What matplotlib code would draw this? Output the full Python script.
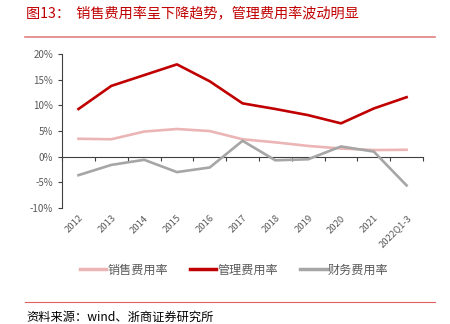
import matplotlib
matplotlib.use("Agg")
import matplotlib.pyplot as plt
from matplotlib.lines import Line2D

plt.rcParams['font.family'] = ['Noto Sans CJK SC', 'DejaVu Sans']

years = ['2012', '2013', '2014', '2015', '2016', '2017', '2018', '2019',
         '2020', '2021', '2022Q1-3']
sales_rate = [3.5, 3.4, 4.9, 5.4, 5.0, 3.4, 2.8, 2.1, 1.6, 1.3, 1.35]
admin_rate = [9.3, 13.8, 15.9, 18.0, 14.7, 10.4, 9.3, 8.1, 6.5, 9.4, 11.6]
fin_rate = [-3.6, -1.6, -0.6, -3.0, -2.1, 3.1, -0.7, -0.5, 2.0, 1.0, -5.6]

red = '#C00000'
pink = '#EBB5B5'
gray = '#A6A6A6'
txt = '#595959'

fig = plt.figure(figsize=(4.5, 3.24), dpi=100)
ax = fig.add_axes([0.138, 0.358, 0.802, 0.475])

x = list(range(len(years)))
ax.plot(x, sales_rate, color=pink, lw=1.9, label='销售费用率')
ax.plot(x, admin_rate, color=red, lw=1.9, label='管理费用率')
ax.plot(x, fin_rate, color=gray, lw=1.9, label='财务费用率')

ax.set_xlim(-0.5, len(years) - 0.5)
ax.set_ylim(-10, 20)
ax.set_yticks([-10, -5, 0, 5, 10, 15, 20])
ax.set_yticklabels(['%d%%' % v for v in [-10, -5, 0, 5, 10, 15, 20]])
ax.tick_params(axis='y', labelsize=7, colors=txt, length=3, width=0.8)
ax.tick_params(axis='y', color='#404040')
for s in ['top', 'right', 'bottom']:
    ax.spines[s].set_visible(False)
ax.spines['left'].set_color('#404040')
ax.spines['left'].set_linewidth(0.8)

ax.set_xticks(x)
ax.set_xticklabels(years, rotation=45, ha='right', rotation_mode='anchor')
ax.tick_params(axis='x', length=0, labelsize=6.8, colors=txt, pad=4)

# x axis line at zero with tick marks between categories
sec = ax.secondary_xaxis(1 / 3)
sec.set_xticks([i + 0.5 for i in range(-1, len(years))])
sec.set_xticklabels([])
sec.tick_params(axis='x', direction='out', length=3, width=0.8, color='#404040')
sec.spines['bottom'].set_color('#404040')
sec.spines['bottom'].set_linewidth(0.8)

handles = [Line2D([], [], color=pink, lw=2.5),
           Line2D([], [], color=red, lw=2.5),
           Line2D([], [], color=gray, lw=2.5)]
fig.legend(handles, ['销售费用率', '管理费用率', '财务费用率'], loc='center',
           bbox_to_anchor=(0.52, 0.167), ncol=3, frameon=False, fontsize=8.7,
           labelcolor=txt, handlelength=2.2, handletextpad=0.1, columnspacing=1.8)

fig.text(0.058, 0.955, '图13：  销售费用率呈下降趋势，管理费用率波动明显',
         color=red, fontsize=10.2, va='center', ha='left')
fig.add_artist(Line2D([0.056, 0.967], [0.886, 0.886], color='#E08080', lw=1.2))
fig.add_artist(Line2D([0.056, 0.967], [0.068, 0.068], color='#E06060', lw=0.8))
fig.text(0.058, 0.022, '资料来源：wind、浙商证券研究所', color='#000000',
         fontsize=8.8, va='center', ha='left')

fig.savefig('out.png', dpi=100)
